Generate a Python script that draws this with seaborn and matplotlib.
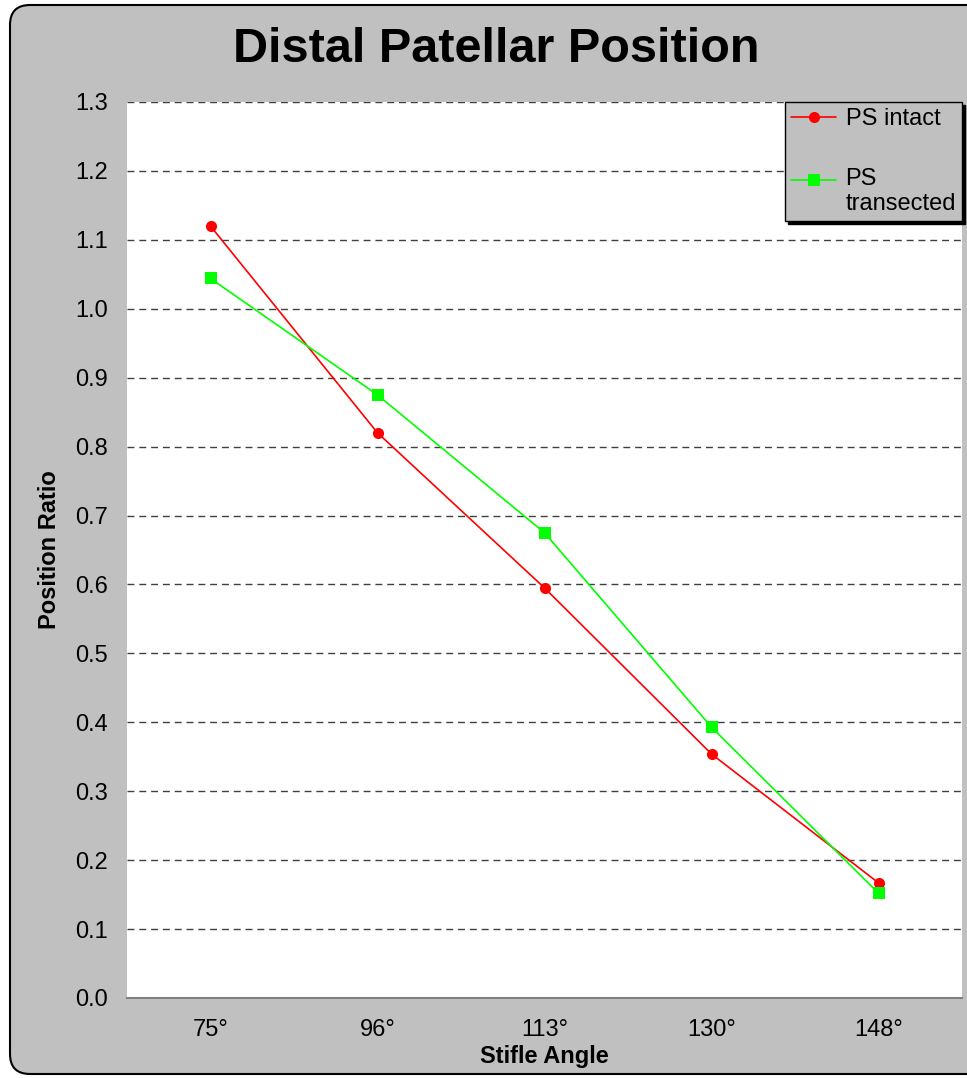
import matplotlib
matplotlib.use("Agg")
import matplotlib.pyplot as plt
from matplotlib.patches import FancyBboxPatch
from matplotlib.legend_handler import HandlerLine2D
import numpy as np
import pandas as pd
import seaborn as sns

# Stifle angles and the distal patellar position ratio at each
angles = ["75°", "96°", "113°", "130°", "148°"]
ps_intact = [1.12, 0.82, 0.595, 0.354, 0.167]
ps_transected = [1.044, 0.875, 0.675, 0.393, 0.152]
series_names = ["PS intact", "PS\ntransected"]
y_ticks = [round(0.1 * i, 1) for i in range(14)]

df = pd.DataFrame({
    "pos": list(range(len(angles))) * 2,
    "ratio": ps_intact + ps_transected,
    "series": [series_names[0]] * len(angles) + [series_names[1]] * len(angles),
})

sns.set_style("white")
plt.rcParams["font.family"] = ["Liberation Sans", "DejaVu Sans"]
plt.rcParams["text.color"] = "black"
plt.rcParams["xtick.color"] = "black"
plt.rcParams["ytick.color"] = "black"
plt.rcParams["axes.labelcolor"] = "black"

W, H = 967, 1078
fig = plt.figure(figsize=(W / 100, H / 100), dpi=100)
fig.patch.set_facecolor("white")

# rounded grey chart frame (runs past the right edge)
frame = FancyBboxPatch((10 / 100, 4 / 100), 1000 / 100, 1069 / 100,
                       boxstyle="round,pad=0,rounding_size=0.2",
                       transform=fig.dpi_scale_trans, facecolor="#C0C0C0",
                       edgecolor="black", linewidth=1.5, zorder=-5)
fig.patches.append(frame)

ax = fig.add_axes([127 / W, 80 / H, 835 / W, 896 / H])
ax.set_zorder(2)
ax.set_facecolor("white")

palette = {series_names[0]: "#FF0000", series_names[1]: "#00FF00"}
markers = {series_names[0]: "o", series_names[1]: "s"}
sns.lineplot(data=df, x="pos", y="ratio", hue="series", style="series",
             palette=palette, markers=markers, dashes=False,
             markersize=8, linewidth=1.2, markeredgewidth=0, ax=ax, zorder=3)

ax.set_xlim(-0.5, len(angles) - 0.5)
ax.set_ylim(0, 1.3)
ax.set_xticks(range(len(angles)))
ax.set_xticklabels(angles, fontsize=17)
ax.set_yticks(y_ticks)
ax.set_yticklabels([f"{v:.1f}" for v in y_ticks], fontsize=17)
ax.tick_params(axis="x", length=0, pad=15)
ax.tick_params(axis="y", length=0, pad=14)

for v in y_ticks[1:]:
    ax.axhline(v, color="#404040", linestyle=(0, (5, 3.5)), linewidth=1.0, zorder=1)

for side in ["left", "right", "top"]:
    ax.spines[side].set_visible(False)
ax.spines["bottom"].set_color("#808080")
ax.spines["bottom"].set_linewidth(1.5)

ax.set_xlabel("Stifle Angle", fontsize=17, fontweight="bold", labelpad=3)
ax.set_ylabel("Position Ratio", fontsize=17, fontweight="bold", labelpad=10)

fig.text(496 / W, 1 - 50 / H, "Distal Patellar Position", fontsize=35,
         fontweight="bold", ha="center", va="center", color="black")


class FirstLineHandler(HandlerLine2D):
    """Line handle aligned with the first line of a two-line label."""

    def __init__(self, lift=0.0, **kw):
        super().__init__(**kw)
        self.lift = lift

    def create_artists(self, legend, orig_handle, xdescent, ydescent,
                       width, height, fontsize, trans):
        return super().create_artists(legend, orig_handle, xdescent,
                                      ydescent - 2 * self.lift, width, height,
                                      fontsize, trans)


handles, labels = ax.get_legend_handles_labels()
leg = ax.legend(handles, labels, loc="upper right", bbox_to_anchor=(1.0, 1.0),
                fontsize=17, frameon=True, fancybox=False, handlelength=1.9,
                borderaxespad=0, labelspacing=1.6, handletextpad=0.4,
                borderpad=0.25,
                handler_map={handles[1]: FirstLineHandler(lift=8.5)},
                shadow={"color": "black", "alpha": 1.0})
leg.get_frame().set_facecolor("#C0C0C0")
leg.get_frame().set_edgecolor("black")
leg.get_frame().set_alpha(1)
leg.get_frame().set_linewidth(1.0)
for h in leg.legend_handles:
    h.set_markersize(8)
for t in leg.get_texts():
    t.set_color("black")

fig.savefig("out.png", dpi=100)
